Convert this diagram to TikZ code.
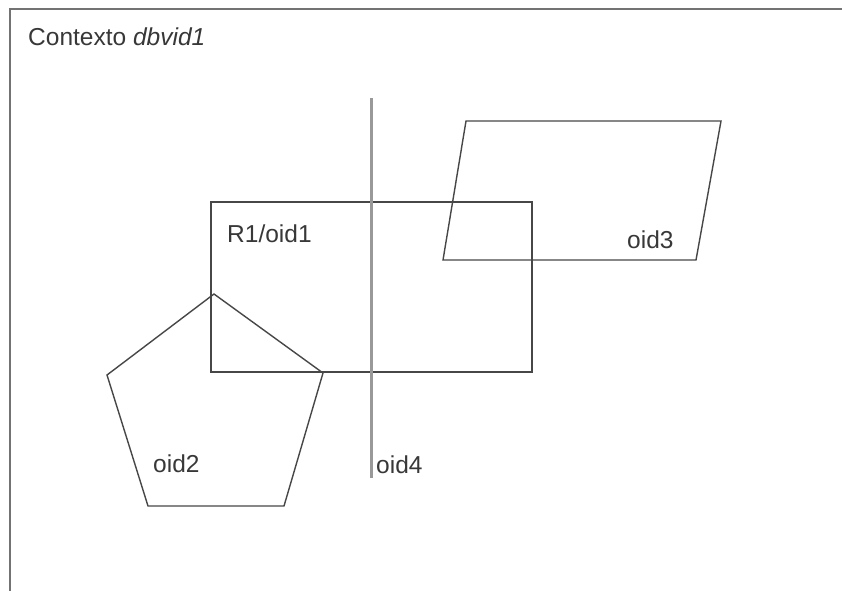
\documentclass[tikz,border=0pt]{standalone}
\usepackage{fontspec}
\setmainfont{Liberation Sans}
\begin{document}
\begin{tikzpicture}[x=1pt,y=-1pt,
  shapeline/.style={draw=black!72, line width=1.4pt, line join=miter},
  frameline/.style={draw=black!55, line width=2.2pt},
  axisline/.style={draw=black!40, line width=3pt},
  lbl/.style={anchor=base west, inner sep=0pt, text=black!78,
    font=\fontsize{24.5}{28}\selectfont}]
  \useasboundingbox (0,0) rectangle (842,590);
  \fill[white] (0,0) rectangle (842,590);

  % context frame (open at right and bottom)
  \draw[frameline] (10,600) -- (10,9) -- (850,9);
  \node[lbl] (ctx) at (28,45) {Contexto \textit{dbvid1}};

  % region R1
  \draw[shapeline] (211,202) rectangle (532,372);
  \node[lbl] (r1) at (227,242) {R1/oid1};

  % pentagon oid2
  \draw[shapeline] (214,294) -- (323,373) -- (284,506) -- (148,506) -- (107,375) -- cycle;
  \node[lbl] (o2) at (153,472) {oid2};

  % parallelogram oid3
  \draw[shapeline] (466,121) -- (721,121) -- (696,260) -- (443,260) -- cycle;
  \node[lbl] (o3) at (627,248) {oid3};

  % line oid4
  \coordinate (l4a) at (371,98);
  \coordinate (l4b) at (371,478);
  \draw[axisline] (l4a) -- (l4b);
  \node[lbl] (o4) at (376,473) {oid4};
\end{tikzpicture}
\end{document}
